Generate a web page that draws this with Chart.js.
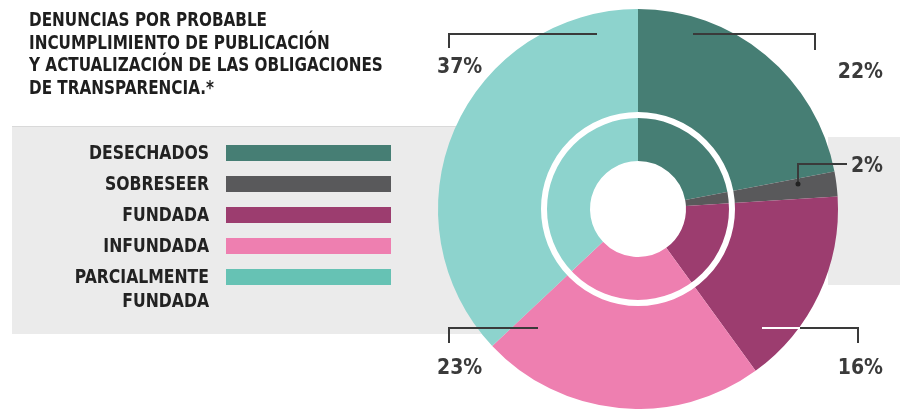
<!DOCTYPE html>
<html>
<head>
<meta charset="utf-8">
<script src="https://cdn.jsdelivr.net/npm/chart.js@4/dist/chart.umd.min.js"></script>
<style>
  body { margin: 0; background: #fff; }
  #wrap { position: relative; width: 900px; height: 409px; overflow: hidden; }
  .band { position: absolute; background: #ebebeb; }
  #bandLeft { left: 12px; top: 126px; width: 560px; height: 207px; border-top: 1px solid #d9d9d9; }
  #bandRight { left: 828px; top: 137px; width: 72px; height: 148px; }
  canvas { position: absolute; left: 0; top: 0; }
  .txt { font-family: "Liberation Sans Narrow", "DejaVu Sans Condensed", sans-serif; font-weight: bold; color: #1e1e1e; }
  #title { position: absolute; left: 29px; top: 8px; font-size: 20px; line-height: 22.7px; white-space: nowrap;
           transform: scaleX(0.847); transform-origin: left top; }
  .lgRow { position: absolute; left: 0; height: 16px; }
  .lgText { position: absolute; left: 9px; width: 200px; text-align: right; font-size: 20px; line-height: 24px; top: -5px;
            white-space: nowrap; color: #222; transform: scaleX(0.87); transform-origin: right top; }
  .lgSwatch { position: absolute; left: 226px; top: 0; width: 165px; height: 16px; }
</style>
</head>
<body>
<div id="wrap">
  <div class="band" id="bandLeft"></div>
  <div class="band" id="bandRight"></div>
  <canvas id="pie" width="900" height="409"></canvas>
  <div id="title" class="txt">DENUNCIAS POR PROBABLE<br>INCUMPLIMIENTO DE PUBLICACIÓN<br>Y ACTUALIZACIÓN DE LAS OBLIGACIONES<br>DE TRANSPARENCIA.*</div>
  <div id="legend"></div>
</div>
<script>
const categories = ['DESECHADOS', 'SOBRESEER', 'FUNDADA', 'INFUNDADA', ['PARCIALMENTE', 'FUNDADA']];
const percentages = [22, 2, 16, 23, 37];
const sliceColors = ['#467e74', '#59595b', '#9c3d6f', '#ee7fb0', '#8dd3cd'];
const legendColors = ['#467e74', '#59595b', '#9c3d6f', '#ee7fb0', '#66c2b4'];

// callout leader lines (absolute page coords), one per slice
const callouts = [
  { pts: [[693, 34], [815, 34], [815, 50]], text: [883, 78, 'right'] },
  { pts: [[798, 184], [798, 164], [847, 164]], text: [883, 172, 'right'], dot: true },
  { pts: [[762, 328], [858, 328], [858, 343]], text: [883, 374, 'right'], lightTo: 800 },
  { pts: [[538, 328], [449, 328], [449, 343]], text: [437, 374, 'left'] },
  { pts: [[597, 34], [449, 34], [449, 48]], text: [437, 73, 'left'] }
];

// legend
const legend = document.getElementById('legend');
categories.forEach((c, i) => {
  const row = document.createElement('div');
  row.className = 'lgRow';
  row.style.top = (145 + i * 31) + 'px';
  const t = document.createElement('div');
  t.className = 'lgText txt';
  t.innerHTML = Array.isArray(c) ? c.join('<br>') : c;
  const sw = document.createElement('div');
  sw.className = 'lgSwatch';
  sw.style.background = legendColors[i];
  row.appendChild(t);
  row.appendChild(sw);
  legend.appendChild(row);
});

const ringPlugin = {
  id: 'ring',
  afterDatasetsDraw(chart) {
    const arc = chart.getDatasetMeta(0).data[0];
    const c = chart.ctx;
    c.save();
    c.beginPath();
    c.arc(arc.x, arc.y, arc.outerRadius * 0.47, 0, Math.PI * 2);
    c.lineWidth = 6;
    c.strokeStyle = '#fff';
    c.stroke();
    c.restore();
  }
};

const calloutPlugin = {
  id: 'callouts',
  afterDraw(chart) {
    const c = chart.ctx;
    const vals = chart.data.datasets[0].data;
    c.save();
    callouts.forEach((co, i) => {
      c.beginPath();
      co.pts.forEach((p, k) => k ? c.lineTo(p[0], p[1]) : c.moveTo(p[0], p[1]));
      c.lineWidth = 2;
      c.strokeStyle = '#3a3a3a';
      c.stroke();
      if (co.lightTo) {
        c.beginPath();
        c.moveTo(co.pts[0][0], co.pts[0][1]);
        c.lineTo(co.lightTo, co.pts[0][1]);
        c.strokeStyle = '#ffffff';
        c.stroke();
      }
      if (co.dot) {
        c.beginPath();
        c.arc(co.pts[0][0], co.pts[0][1], 2.5, 0, Math.PI * 2);
        c.fillStyle = '#222';
        c.fill();
      }
      c.font = 'bold 21px "Liberation Sans Narrow", "DejaVu Sans Condensed", sans-serif';
      c.fillStyle = '#3a3a3a';
      c.textAlign = co.text[2];
      c.textBaseline = 'alphabetic';
      c.fillText(vals[i] + '%', co.text[0], co.text[1]);
    });
    c.restore();
  }
};

new Chart(document.getElementById('pie'), {
  type: 'doughnut',
  data: {
    labels: categories,
    datasets: [{
      data: percentages,
      backgroundColor: sliceColors,
      borderWidth: 0
    }]
  },
  options: {
    responsive: false,
    animation: false,
    cutout: '24%',
    layout: { padding: { left: 438, right: 62, top: 9, bottom: 0 } },
    plugins: { legend: { display: false }, tooltip: { enabled: false } }
  },
  plugins: [ringPlugin, calloutPlugin]
});
</script>
</body>
</html>
